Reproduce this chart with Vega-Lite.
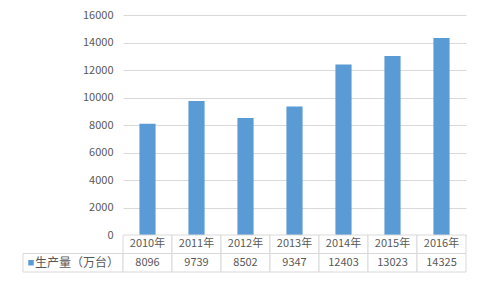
{
  "$schema": "https://vega.github.io/schema/vega-lite/v6.json",
  "background": "white",
  "padding": {"left": 22, "top": 9, "right": 14, "bottom": 16},
  "bounds": "flush",
  "spacing": 0,
  "columns": 2,
  "config": {
    "view": {"stroke": null},
    "font": "Noto Sans CJK SC",
    "text": {"font": "Noto Sans CJK SC", "fontSize": 11, "color": "#595959"}
  },
  "datasets": {
    "prod": [
      {"year": "2010年", "value": 8096},
      {"year": "2011年", "value": 9739},
      {"year": "2012年", "value": 8502},
      {"year": "2013年", "value": 9347},
      {"year": "2014年", "value": 12403},
      {"year": "2015年", "value": 13023},
      {"year": "2016年", "value": 14325}
    ]
  },
  "concat": [
    {
      "width": 100,
      "height": 220,
      "data": {"values": []},
      "mark": {"type": "point", "opacity": 0},
      "encoding": {}
    },
    {
      "width": 343,
      "height": 220,
      "data": {"name": "prod"},
      "mark": {"type": "bar", "color": "#5B9BD5"},
      "encoding": {
        "x": {
          "field": "year", "type": "nominal", "sort": null,
          "scale": {"paddingInner": 0.67, "paddingOuter": 0.335},
          "axis": {"title": null, "labels": false, "ticks": false, "domain": true, "domainColor": "#BFBFBF"}
        },
        "y": {
          "field": "value", "type": "quantitative",
          "scale": {"domain": [0, 16000], "nice": false},
          "axis": {
            "title": null, "values": [0, 2000, 4000, 6000, 8000, 10000, 12000, 14000, 16000],
            "format": "d",
            "domain": false, "ticks": false, "labelPadding": 10, "gridColor": "#D9D9D9",
            "labelColor": "#595959", "labelFontSize": 11, "labelFont": "Noto Sans CJK SC"
          }
        }
      }
    },
    {
      "width": 100,
      "height": 37,
      "data": {"values": [{"series": "生产量（万台）"}]},
      "encoding": {
        "y": {"datum": "r2", "type": "nominal", "scale": {"domain": ["r1", "r2"], "paddingInner": 0, "paddingOuter": 0}, "axis": null}
      },
      "layer": [
        {"mark": {"type": "rect", "fill": "white", "stroke": "#D9D9D9", "strokeWidth": 1}},
        {"mark": {"type": "point", "shape": "square", "filled": true, "color": "#5B9BD5", "size": 30, "opacity": 1}, "encoding": {"x": {"value": 8}}},
        {"mark": {"type": "text", "align": "left", "fontSize": 12}, "encoding": {"x": {"value": 12}, "text": {"field": "series"}}}
      ]
    },
    {
      "width": 343,
      "height": 37,
      "data": {"name": "prod"},
      "encoding": {
        "x": {"field": "year", "type": "nominal", "sort": null, "scale": {"paddingInner": 0, "paddingOuter": 0}, "axis": null}
      },
      "layer": [
        {
          "mark": {"type": "rect", "fill": "white", "stroke": "#D9D9D9", "strokeWidth": 1},
          "encoding": {"y": {"datum": "r1", "type": "nominal", "scale": {"domain": ["r1", "r2"], "paddingInner": 0, "paddingOuter": 0}, "axis": null}}
        },
        {
          "mark": {"type": "rect", "fill": "white", "stroke": "#D9D9D9", "strokeWidth": 1},
          "encoding": {"y": {"datum": "r2", "type": "nominal"}}
        },
        {
          "mark": {"type": "text"},
          "encoding": {"y": {"datum": "r1", "type": "nominal"}, "text": {"field": "year"}}
        },
        {
          "mark": {"type": "text"},
          "encoding": {"y": {"datum": "r2", "type": "nominal"}, "text": {"field": "value", "type": "quantitative", "format": "d"}}
        }
      ]
    }
  ]
}
